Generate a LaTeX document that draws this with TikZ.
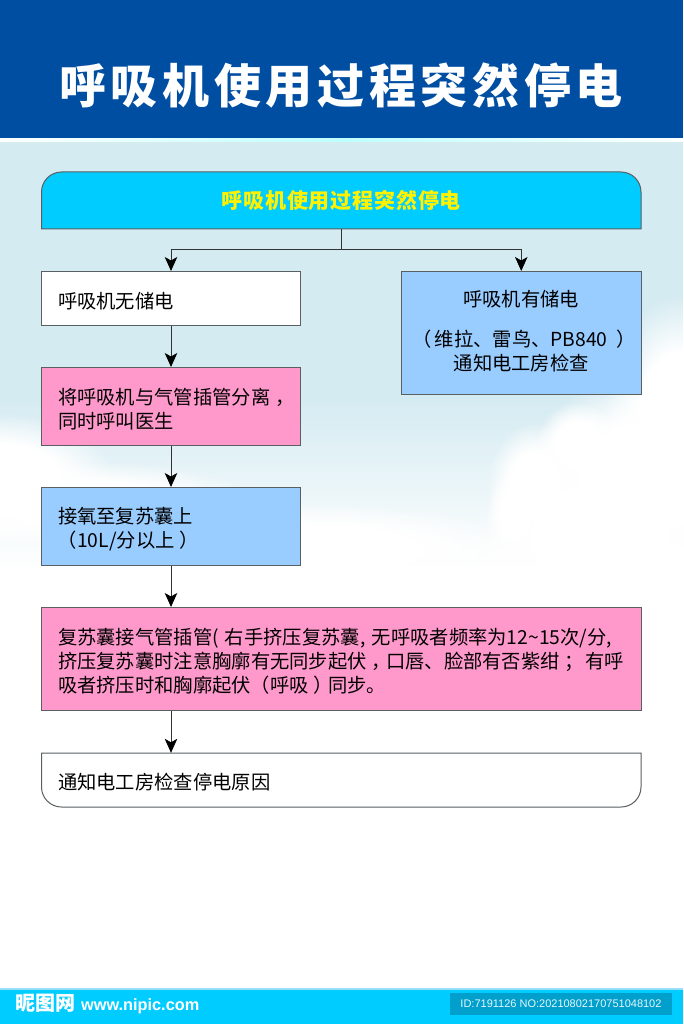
\documentclass[tikz,border=0pt]{standalone}
\usepackage{fontspec}
\setmainfont{Noto Sans CJK SC}
\newfontfamily\titlefont[LetterSpace=10]{Noto Sans CJK SC}
\newfontfamily\headfont[LetterSpace=4]{Noto Sans CJK SC}
\newfontfamily\idfont{Liberation Sans}
\usetikzlibrary{positioning,arrows.meta,fadings}
\definecolor{bandblue}{HTML}{004EA2}
\definecolor{skyblue}{HTML}{D5EBF2}
\definecolor{headcyan}{HTML}{00CCFF}
\definecolor{boxblue}{HTML}{99CCFF}
\definecolor{boxpink}{HTML}{FF99CC}
\definecolor{boxline}{HTML}{5A5F62}
\definecolor{idblue}{HTML}{009FCC}
\pgfdeclareradialshading{softdisc}{\pgfpointorigin}{color(0bp)=(white); color(13bp)=(white); color(24bp)=(black); color(50bp)=(black)}
\pgfdeclarefading{softedge}{\pgfuseshading{softdisc}}
% full width punctuation, ink in the middle of its em box
\newcommand{\lbr}{\makebox[1em][l]{\kern-1pt（}}
\newcommand{\rbr}{\makebox[1em][l]{\kern5pt）}}
\newcommand{\lbrtight}{\makebox[13pt][l]{\kern-9pt（}}
\newcommand{\rbrtight}{\makebox[13pt][l]{\kern9pt）}}
\newcommand{\zcomma}{\makebox[1em][l]{\kern5pt，}}
\newcommand{\zsemi}{\makebox[1em][l]{\kern5pt；}}
% pushes a text block down inside its box
\newcommand{\lowfirst}{\rule{0pt}{21.5pt}}
\tikzset{
  x=1pt,y=-1pt,
  flowbox/.style={draw=boxline,line width=1pt,font=\fontsize{19.3}{24}\selectfont,inner xsep=16.5pt,inner ysep=0pt,align=left,anchor=center},
  narrowbox/.style={flowbox,minimum width=259pt,text width=226pt},
  widebox/.style={flowbox,minimum width=599.5pt,text width=566.5pt},
  flowline/.style={draw=black!80,line width=0.8pt},
  flowarrow/.style={flowline,-{Stealth[length=14pt,width=12.5pt,inset=3.5pt,black]}},
  cloudblob/.style={white,path fading=softedge}
}
\begin{document}
\begin{tikzpicture}
\useasboundingbox (0,0) rectangle (683,1024);
% background
\fill[white] (0,0) rectangle (683,1024);
\fill[skyblue] (0,142) rectangle (683,400);
\fill[top color=skyblue,bottom color=white] (0,400) rectangle (683,570);
% clouds
\foreach \cx/\cy/\rx/\ry in {
  680/420/80/130, 640/480/120/110, 600/540/130/110, 535/485/50/65, 578/445/45/45,
  515/515/30/50, 640/590/240/90, 0/480/120/70, 90/505/180/45, 300/550/240/50}
  {\fill[cloudblob] (\cx,\cy) ellipse [x radius=\rx,y radius=\ry];}
% title band
\fill[bandblue] (0,0) rectangle (683,139);
\fill[left color=white,right color=white,middle color=cyan!25] (0,139) rectangle (683,142);
\node (title) at (341,86) {\titlefont\bfseries\fontsize{47}{47}\selectfont\color{white}呼吸机使用过程突然停电};
% top box
\draw[draw=boxline,line width=1pt,fill=headcyan] (41.5,229) [rounded corners=20pt] -- (41.5,172) -- (641,172) [sharp corners] -- (641,229) -- cycle;
\node[minimum width=599.5pt,minimum height=57pt,inner sep=0pt] (head) at (341.25,200.5)
  {\headfont\bfseries\fontsize{21}{24}\selectfont\color{yellow}呼吸机使用过程突然停电};
% boxes
\node[narrowbox,fill=white,minimum height=53.5pt] (nostore) at (171,298.25) {\lowfirst 呼吸机无储电};
\node[flowbox,fill=boxblue,minimum width=239.5pt,minimum height=122.5pt,text width=230pt,inner xsep=4pt,align=center] (store) at (521.25,332.75)
  {呼吸机有储电\\[16pt]\lbrtight 维拉、雷鸟、PB840\rbrtight\\通知电工房检查\rule[-5pt]{0pt}{5pt}};
\node[narrowbox,fill=boxpink,minimum height=77.5pt] (separate) at (171,406.25) {\lowfirst 将呼吸机与气管插管分离\zcomma\\同时呼叫医生};
\node[narrowbox,fill=boxblue,minimum height=77.5pt] (oxygen) at (171,526.25) {\lowfirst 接氧至复苏囊上\\\lbr 10L/分以上\rbr};
\node[widebox,fill=boxpink,minimum height=103pt] (connect) at (341.25,659) {\lowfirst 复苏囊接气管插管(\kern6pt右手挤压复苏囊, 无呼吸者频率为12{\textasciitilde}15次/分,\\挤压复苏囊时注意胸廓有无同步起伏\zcomma 口唇、脸部有否紫绀\zsemi{} 有呼\\吸者挤压时和胸廓起伏\lbr 呼吸\rbr 同步。};
% bottom box
\draw[draw=boxline,line width=1pt,fill=white] (641,753) [rounded corners=20pt] -- (641,807) -- (41.5,807) [sharp corners] -- (41.5,753) -- cycle;
\node[minimum width=599.5pt,minimum height=54pt,inner xsep=16.5pt,inner ysep=0pt,text width=566.5pt,align=left,font=\fontsize{19.3}{24}\selectfont] (notify) at (341.25,780) {\lowfirst 通知电工房检查停电原因};
% connectors
\coordinate (split) at ([yshift=-20pt]head.south);
\draw[flowline] (head.south) -- (split);
\draw[flowarrow] (split) -| (nostore.north);
\draw[flowarrow] (split) -| (store.north);
\draw[flowarrow] (nostore) -- (separate);
\draw[flowarrow] (separate) -- (oxygen);
\draw[flowarrow] (oxygen.south) -- (oxygen.south |- connect.north);
\draw[flowarrow] (oxygen.south |- connect.south) -- (oxygen.south |- notify.north);
% footer
\fill[headcyan] (0,989) rectangle (683,1024);
\fill[cyan!40] (0,988) rectangle (683,990);
\node[inner sep=0pt,anchor=west,text=white] (logo) at (15,1003) {\bfseries\fontsize{20}{20}\selectfont 昵图网};
\node[inner sep=0pt,anchor=west,text=white] (site) at (81,1006) {\idfont\bfseries\fontsize{16.3}{18}\selectfont www.nipic.com};
\node[fill=idblue,minimum width=222pt,minimum height=22pt,inner sep=0pt,text=white!90!cyan] (idtag) at (561,1004) {\idfont\fontsize{11}{12}\selectfont ID:7191126 NO:20210802170751048102};
\end{tikzpicture}
\end{document}
